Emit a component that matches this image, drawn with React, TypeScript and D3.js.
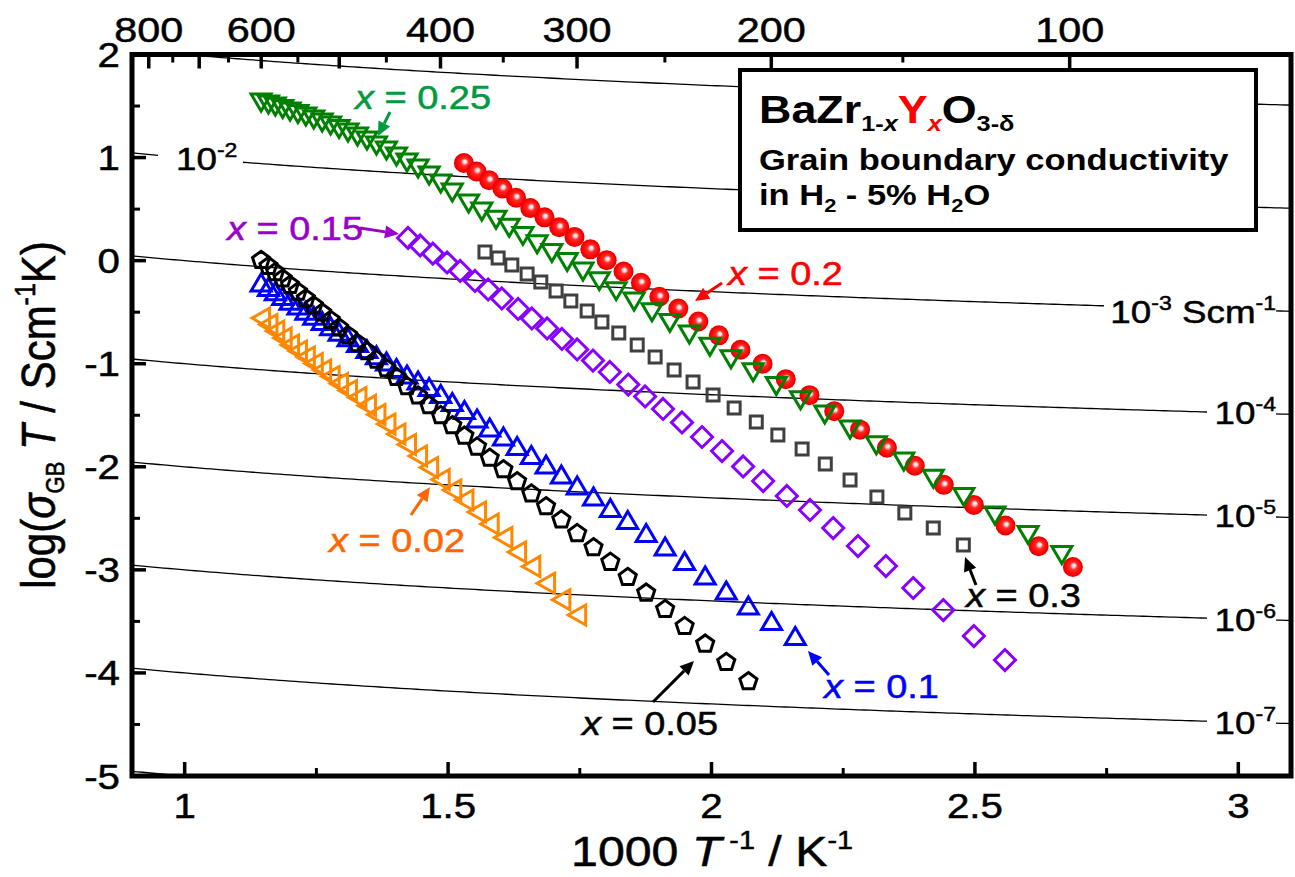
import React from 'react';
import * as d3 from 'd3';

const FONT = "'Liberation Sans', Arial, Helvetica, sans-serif";
const SX = 1.15;

// ---- axes ----
const xDomain = [0.9, 3.1];
const yDomain = [-5, 2];
const xMajorTicks = [1, 1.5, 2, 2.5, 3];
const xMinorTicks = [1.25, 1.75, 2.25, 2.75];
const yMajorTicks = [-5, -4, -3, -2, -1, 0, 1, 2];
const yMinorTicks = [-4.5, -3.5, -2.5, -1.5, -0.5, 0.5, 1.5];
const topMajorTemps = [800, 700, 600, 500, 400, 300, 200, 100];
const topMinorTemps = [750, 650, 550, 450, 350, 250, 150];
const topLabelTemps = [800, 600, 400, 300, 200, 100];
const isoExponents = [-1, -2, -3, -4, -5, -6, -7, -8];

// ---- data: 1000/T (K^-1) and log(sigma_GB T) ----
const invT_x002 = [1.145, 1.159, 1.172, 1.186, 1.200, 1.215, 1.230, 1.245, 1.261, 1.277, 1.293, 1.310, 1.328, 1.346, 1.364, 1.383, 1.402, 1.422, 1.443, 1.464, 1.486, 1.508, 1.531, 1.555, 1.579, 1.605, 1.631, 1.658, 1.686, 1.715, 1.745];
const logST_x002 = [-0.557, -0.620, -0.683, -0.751, -0.819, -0.877, -0.935, -0.998, -1.061, -1.124, -1.192, -1.260, -1.328, -1.405, -1.493, -1.585, -1.682, -1.784, -1.895, -2.007, -2.123, -2.225, -2.322, -2.439, -2.555, -2.686, -2.827, -2.967, -3.130, -3.290, -3.438];

const invT_x005 = [1.145, 1.159, 1.172, 1.186, 1.200, 1.215, 1.230, 1.245, 1.261, 1.277, 1.293, 1.310, 1.328, 1.346, 1.364, 1.383, 1.402, 1.422, 1.443, 1.464, 1.486, 1.508, 1.531, 1.555, 1.579, 1.605, 1.631, 1.658, 1.686, 1.715, 1.745, 1.776, 1.808, 1.841, 1.876, 1.912, 1.949, 1.988, 2.028, 2.070];
const logST_x005 = [0.004, -0.055, -0.114, -0.176, -0.238, -0.303, -0.369, -0.437, -0.506, -0.577, -0.651, -0.725, -0.803, -0.881, -0.963, -1.046, -1.132, -1.220, -1.311, -1.404, -1.501, -1.600, -1.701, -1.807, -1.915, -2.027, -2.143, -2.262, -2.386, -2.514, -2.646, -2.783, -2.925, -3.072, -3.224, -3.383, -3.548, -3.719, -3.897, -4.083];

const invT_x01 = [1.145, 1.159, 1.172, 1.186, 1.200, 1.215, 1.230, 1.245, 1.261, 1.277, 1.293, 1.310, 1.328, 1.346, 1.364, 1.383, 1.402, 1.422, 1.443, 1.464, 1.486, 1.508, 1.531, 1.555, 1.579, 1.605, 1.631, 1.658, 1.686, 1.715, 1.745, 1.776, 1.808, 1.841, 1.876, 1.912, 1.949, 1.988, 2.028, 2.070, 2.114, 2.159];
const logST_x01 = [-0.217, -0.260, -0.303, -0.348, -0.394, -0.441, -0.490, -0.539, -0.590, -0.641, -0.694, -0.749, -0.805, -0.863, -0.922, -0.983, -1.046, -1.110, -1.168, -1.231, -1.299, -1.376, -1.454, -1.536, -1.624, -1.711, -1.803, -1.891, -1.983, -2.080, -2.186, -2.293, -2.405, -2.521, -2.647, -2.778, -2.919, -3.060, -3.205, -3.351, -3.501, -3.647];

const invT_x015 = [1.424, 1.447, 1.471, 1.498, 1.523, 1.551, 1.576, 1.602, 1.633, 1.659, 1.688, 1.716, 1.745, 1.775, 1.807, 1.842, 1.874, 1.908, 1.944, 1.982, 2.020, 2.060, 2.098, 2.143, 2.187, 2.231, 2.278, 2.331, 2.383, 2.440, 2.498, 2.557];
const logST_x015 = [0.220, 0.147, 0.069, -0.018, -0.100, -0.197, -0.280, -0.367, -0.469, -0.561, -0.658, -0.760, -0.862, -0.969, -1.080, -1.202, -1.318, -1.439, -1.570, -1.711, -1.847, -1.997, -2.138, -2.283, -2.419, -2.594, -2.769, -2.963, -3.176, -3.390, -3.642, -3.875];

const invT_x02 = [1.530, 1.554, 1.578, 1.603, 1.629, 1.656, 1.683, 1.711, 1.740, 1.770, 1.801, 1.833, 1.866, 1.901, 1.937, 1.975, 2.014, 2.055, 2.097, 2.141, 2.186, 2.233, 2.282, 2.333, 2.386, 2.441, 2.498, 2.558, 2.621, 2.686];
const logST_x02 = [0.947, 0.865, 0.780, 0.700, 0.610, 0.510, 0.420, 0.325, 0.230, 0.110, 0.005, -0.105, -0.215, -0.350, -0.465, -0.590, -0.725, -0.865, -1.000, -1.150, -1.305, -1.460, -1.640, -1.815, -1.990, -2.175, -2.370, -2.570, -2.770, -2.972];

const invT_x025 = [1.145, 1.159, 1.172, 1.186, 1.200, 1.215, 1.230, 1.245, 1.261, 1.277, 1.293, 1.310, 1.328, 1.346, 1.364, 1.383, 1.402, 1.422, 1.443, 1.464, 1.486, 1.508, 1.539, 1.564, 1.591, 1.616, 1.642, 1.669, 1.697, 1.726, 1.756, 1.787, 1.819, 1.853, 1.887, 1.921, 1.958, 1.997, 2.037, 2.079, 2.123, 2.169, 2.215, 2.263, 2.313, 2.365, 2.421, 2.479, 2.538, 2.601, 2.665];
const logST_x025 = [1.539, 1.520, 1.500, 1.476, 1.452, 1.428, 1.403, 1.374, 1.345, 1.316, 1.282, 1.248, 1.209, 1.170, 1.122, 1.073, 1.015, 0.957, 0.899, 0.831, 0.753, 0.666, 0.559, 0.481, 0.401, 0.324, 0.245, 0.163, 0.079, -0.009, -0.100, -0.194, -0.291, -0.392, -0.496, -0.599, -0.712, -0.830, -0.952, -1.079, -1.211, -1.349, -1.488, -1.633, -1.786, -1.945, -2.112, -2.288, -2.468, -2.658, -2.852];

const invT_x03 = [1.570, 1.595, 1.621, 1.650, 1.676, 1.705, 1.733, 1.764, 1.792, 1.824, 1.859, 1.893, 1.929, 1.965, 2.003, 2.043, 2.085, 2.126, 2.172, 2.216, 2.263, 2.314, 2.367, 2.421, 2.478];
const logST_x03 = [0.084, 0.026, -0.042, -0.130, -0.207, -0.295, -0.392, -0.489, -0.595, -0.702, -0.819, -0.935, -1.061, -1.178, -1.304, -1.430, -1.566, -1.692, -1.828, -1.973, -2.129, -2.293, -2.448, -2.594, -2.759];

const pentagonPath = (r: number) => {
  const pts = d3.range(5).map((k) => {
    const a = -Math.PI / 2 + (k * 2 * Math.PI) / 5;
    return [r * Math.cos(a), r * Math.sin(a)];
  });
  return 'M' + pts.map((p) => p[0].toFixed(2) + ',' + p[1].toFixed(2)).join('L') + 'Z';
};

const shapePaths: Record<string, string> = {
  triDown: 'M-10,-8L10,-8L0,9Z',
  triUp: 'M-10,8L10,8L0,-9Z',
  triLeft: 'M-9,0L8.5,-10L8.5,10Z',
  square: 'M-6,-6L6,-6L6,6L-6,6Z',
  diamond: 'M0,-10.5L10.5,0L0,10.5L-10.5,0Z',
  pentagon: pentagonPath(9),
};

const series = [
  { name: 'x=0.02', xs: invT_x002, ys: logST_x002, shape: 'triLeft', color: '#ff8800' },
  { name: 'x=0.1', xs: invT_x01, ys: logST_x01, shape: 'triUp', color: '#0000ff' },
  { name: 'x=0.05', xs: invT_x005, ys: logST_x005, shape: 'pentagon', color: '#000000' },
  { name: 'x=0.15', xs: invT_x015, ys: logST_x015, shape: 'diamond', color: '#8800ff' },
  { name: 'x=0.3', xs: invT_x03, ys: logST_x03, shape: 'square', color: '#404040' },
  { name: 'x=0.2', xs: invT_x02, ys: logST_x02, shape: 'ball', color: '#ff0000' },
  { name: 'x=0.25', xs: invT_x025, ys: logST_x025, shape: 'triDown', color: '#008000' },
];

function Txt({ x, y, anchor = 'start', size, fill = '#000', weight = 'normal', rotate, children }: any) {
  const tr = `translate(${x},${y}) scale(${SX},1)` + (rotate ? ` rotate(${rotate})` : '');
  return (
    <text
      transform={tr}
      textAnchor={anchor}
      fontSize={size}
      fill={fill}
      stroke={weight === 'bold' ? 'none' : fill}
      strokeWidth={weight === 'bold' ? 0 : 0.5}
      fontWeight={weight}
      fontFamily={FONT}
    >
      {children}
    </text>
  );
}

function Arrow({ x1, y1, x2, y2, color }: any) {
  const a = Math.atan2(y2 - y1, x2 - x1);
  const L = 14;
  const w = 6.5;
  const bx = x2 - L * Math.cos(a);
  const by = y2 - L * Math.sin(a);
  const px = -Math.sin(a) * w;
  const py = Math.cos(a) * w;
  return (
    <g>
      <line x1={x1} y1={y1} x2={bx} y2={by} stroke={color} strokeWidth={3} />
      <path d={`M${x2},${y2}L${bx + px},${by + py}L${bx - px},${by - py}Z`} fill={color} />
    </g>
  );
}

function Label({ x, y, color, value }: any) {
  return (
    <Txt x={x} y={y} size={33} fill={color}>
      <tspan fontStyle="italic">x</tspan>
      {' = ' + value}
    </Txt>
  );
}

export default function App() {
  const x = d3.scaleLinear().domain(xDomain).range([132, 1291]);
  const y = d3.scaleLinear().domain(yDomain).range([776, 54.5]);
  const left = x(xDomain[0]);
  const right = x(xDomain[1]);
  const top = y(yDomain[1]);
  const bottom = y(yDomain[0]);
  const tempToInvT = (t: number) => 1000 / (t + 273.15);
  const samples = d3.range(xDomain[0], xDomain[1] + 1e-9, 0.01);
  const iso = (e: number) => (v: number) => e + 3 - Math.log10(v);
  const isoPath = (e: number) =>
    d3.line<number>().x((v) => x(v)).y((v) => y(iso(e)(v)))(samples) as string;

  const rightLabelX = 3.0;
  return (
    <svg width={1295} height={877} style={{ position: 'absolute', left: 0, top: 0, background: '#fff' }} fontFamily={FONT}>
      <defs>
        <clipPath id="plot">
          <rect x={left} y={top} width={right - left} height={bottom - top} />
        </clipPath>
        <radialGradient id="ball" cx="0.5" cy="0.5" r="0.5" fx="0.56" fy="0.42">
          <stop offset="0" stopColor="#ffffff" />
          <stop offset="0.16" stopColor="#ffd8d8" />
          <stop offset="0.38" stopColor="#ff2a2a" />
          <stop offset="0.8" stopColor="#ff0000" />
          <stop offset="1" stopColor="#e00000" />
        </radialGradient>
      </defs>
      <rect x={0} y={0} width={1295} height={877} fill="#fff" />

      {/* iso-conductivity lines */}
      <g clipPath="url(#plot)">
        {isoExponents.map((e) => (
          <path key={e} d={isoPath(e)} fill="none" stroke="#000" strokeWidth={1.3} />
        ))}
      </g>

      {/* iso labels */}
      <rect x={158} y={148} width={85} height={20} fill="#fff" />
      <Txt x={176} y={170} size={32}>
        10<tspan fontSize={20} dy={-13}>-2</tspan>
      </Txt>
      <rect x={1104} y={296} width={172} height={24} fill="#fff" />
      <Txt x={1276} y={323} size={32} anchor="end">
        10<tspan fontSize={20} dy={-13}>-3</tspan>
        <tspan dy={13}>{' Scm'}</tspan>
        <tspan fontSize={20} dy={-13}>-1</tspan>
      </Txt>
      {[-4, -5, -6, -7].map((e) => {
        const ly = y(iso(e)(rightLabelX));
        return (
          <g key={e}>
            <rect x={1207} y={ly - 10} width={69} height={20} fill="#fff" />
            <Txt x={1276} y={ly + 11.5} size={32} anchor="end">
              10<tspan fontSize={20} dy={-13}>{String(e)}</tspan>
            </Txt>
          </g>
        );
      })}

      {/* data */}
      {series.map((s) => (
        <g key={s.name}>
          {s.xs.map((v, i) =>
            s.shape === 'ball' ? (
              <circle key={i} cx={x(v)} cy={y(s.ys[i])} r={10} fill="url(#ball)" />
            ) : (
              <path
                key={i}
                transform={`translate(${x(v)},${y(s.ys[i])})`}
                d={shapePaths[s.shape]}
                fill="none"
                stroke={s.color}
                strokeWidth={3}
              />
            )
          )}
        </g>
      ))}

      {/* annotations */}
      <Label x={355} y={109} color="#009a40" value="0.25" />
      <Arrow x1={390} y1={112} x2={378} y2={136} color="#009a40" />
      <Label x={227} y={240} color="#9900cc" value="0.15" />
      <Arrow x1={360} y1={228} x2={399} y2={234} color="#9900cc" />
      <Label x={728} y={285} color="#ff0000" value="0.2" />
      <Arrow x1={722} y1={283} x2={695} y2={301} color="#ff0000" />
      <Label x={966} y={607} color="#000" value="0.3" />
      <Arrow x1={976} y1={585} x2={965} y2={557} color="#000" />
      <Label x={824} y={698} color="#0000ff" value="0.1" />
      <Arrow x1={829} y1={675} x2={808} y2={651} color="#0000ff" />
      <Label x={582} y={735} color="#000" value="0.05" />
      <Arrow x1={653} y1={702} x2={694} y2={661} color="#000" />
      <Label x={329} y={552} color="#ff6600" value="0.02" />
      <Arrow x1={411} y1={515} x2={430} y2={487} color="#ff6600" />

      {/* legend box */}
      <rect x={740} y={70} width={516} height={160} fill="#fff" stroke="#000" strokeWidth={4} />
      <Txt x={759} y={123} size={39} weight="bold">
        BaZr
        <tspan fontSize={22} dy={8}>1-</tspan>
        <tspan fontSize={22} fontStyle="italic">x</tspan>
        <tspan dy={-8} fill="#ff0000">Y</tspan>
        <tspan fontSize={22} dy={8} fill="#ff0000" fontStyle="italic">x</tspan>
        <tspan dy={-8}>O</tspan>
        <tspan fontSize={22} dy={8}>3-δ</tspan>
      </Txt>
      <Txt x={759} y={170} size={30} weight="bold">Grain boundary conductivity</Txt>
      <Txt x={759} y={205} size={30} weight="bold">
        in H<tspan fontSize={19} dy={7}>2</tspan>
        <tspan dy={-7}>{' - 5% H'}</tspan>
        <tspan fontSize={19} dy={7}>2</tspan>
        <tspan dy={-7}>O</tspan>
      </Txt>

      {/* frame */}
      <rect x={left} y={top} width={right - left} height={bottom - top} fill="none" stroke="#000" strokeWidth={5} />
      {/* bottom ticks */}
      {xMajorTicks.map((t) => (
        <line key={'bx' + t} x1={x(t)} x2={x(t)} y1={bottom} y2={bottom - 14} stroke="#000" strokeWidth={3.5} />
      ))}
      {xMinorTicks.map((t) => (
        <line key={'bm' + t} x1={x(t)} x2={x(t)} y1={bottom} y2={bottom - 8} stroke="#000" strokeWidth={3} />
      ))}
      {/* left ticks */}
      {yMajorTicks.map((t) => (
        <line key={'ly' + t} x1={left} x2={left + 14} y1={y(t)} y2={y(t)} stroke="#000" strokeWidth={3.5} />
      ))}
      {yMinorTicks.map((t) => (
        <line key={'lm' + t} x1={left} x2={left + 8} y1={y(t)} y2={y(t)} stroke="#000" strokeWidth={3} />
      ))}
      {/* top ticks */}
      {topMajorTemps.map((t) => (
        <line key={'tt' + t} x1={x(tempToInvT(t))} x2={x(tempToInvT(t))} y1={top} y2={top + 14} stroke="#000" strokeWidth={3.5} />
      ))}
      {topMinorTemps.map((t) => (
        <line key={'tm' + t} x1={x(tempToInvT(t))} x2={x(tempToInvT(t))} y1={top} y2={top + 8} stroke="#000" strokeWidth={3} />
      ))}

      {/* tick labels */}
      {xMajorTicks.map((t) => (
        <Txt key={'xl' + t} x={x(t)} y={818} size={35} anchor="middle">
          {String(t)}
        </Txt>
      ))}
      {yMajorTicks.map((t) => (
        <Txt key={'yl' + t} x={120} y={y(t) + 12.5} size={35} anchor="end">
          {String(t)}
        </Txt>
      ))}
      {topLabelTemps.map((t) => (
        <Txt key={'tl' + t} x={x(tempToInvT(t))} y={42} size={36} anchor="middle">
          {String(t)}
        </Txt>
      ))}

      {/* axis titles */}
      <Txt x={712} y={866} size={42} anchor="middle">
        {'1000 '}
        <tspan fontStyle="italic">T</tspan>
        <tspan fontSize={25} dy={-17}>{' -1'}</tspan>
        <tspan dy={17}>{' / K'}</tspan>
        <tspan fontSize={25} dy={-17}>-1</tspan>
      </Txt>
      <Txt x={55} y={415} size={42} anchor="middle" rotate={-90}>
        {'log('}
        <tspan fontStyle="italic">σ</tspan>
        <tspan fontSize={22} dy={8}>GB</tspan>
        <tspan dy={-8} fontStyle="italic">{' T'}</tspan>
        <tspan>{' / Scm'}</tspan>
        <tspan fontSize={25} dy={-17}>-1</tspan>
        <tspan dy={17}>K)</tspan>
      </Txt>
    </svg>
  );
}
